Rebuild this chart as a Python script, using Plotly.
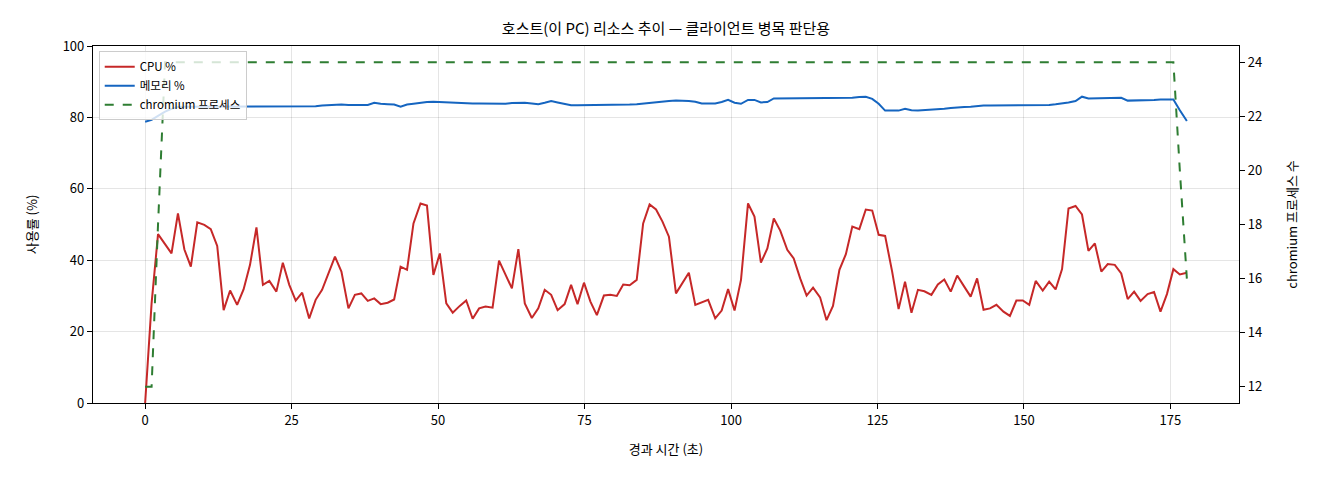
import plotly.graph_objects as go

# 경과 시간 (초)
elapsed = [
    0.0, 1.1, 2.2, 3.4, 4.5, 5.6, 6.7, 7.8, 8.9, 10.1,
    11.2, 12.3, 13.4, 14.5, 15.7, 16.8, 17.9, 19.0, 20.1, 21.2,
    22.4, 23.5, 24.6, 25.7, 26.8, 28.0, 29.1, 30.2, 31.3, 32.4,
    33.5, 34.7, 35.8, 36.9, 38.0, 39.1, 40.2, 41.4, 42.5, 43.6,
    44.7, 45.8, 47.0, 48.1, 49.2, 50.3, 51.4, 52.5, 53.7, 54.8,
    55.9, 57.0, 58.1, 59.3, 60.4, 61.5, 62.6, 63.7, 64.8, 66.0,
    67.1, 68.2, 69.3, 70.4, 71.6, 72.7, 73.8, 74.9, 76.0, 77.1,
    78.3, 79.4, 80.5, 81.6, 82.7, 83.9, 85.0, 86.1, 87.2, 88.3,
    89.4, 90.6, 91.7, 92.8, 93.9, 95.0, 96.1, 97.3, 98.4, 99.5,
    100.6, 101.7, 102.9, 104.0, 105.1, 106.2, 107.3, 108.4, 109.6, 110.7,
    111.8, 112.9, 114.0, 115.2, 116.3, 117.4, 118.5, 119.6, 120.7, 121.9,
    123.0, 124.1, 125.2, 126.3, 127.5, 128.6, 129.7, 130.8, 131.9, 133.0,
    134.2, 135.3, 136.4, 137.5, 138.6, 139.8, 140.9, 142.0, 143.1, 144.2,
    145.3, 146.5, 147.6, 148.7, 149.8, 150.9, 152.0, 153.2, 154.3, 155.4,
    156.5, 157.6, 158.8, 159.9, 161.0, 162.1, 163.2, 164.3, 165.5, 166.6,
    167.7, 168.8, 169.9, 171.1, 172.2, 173.3, 174.4, 175.5, 176.6, 177.8,
]

cpu = [
    0.0, 27.9, 47.3, 44.5, 41.9, 53.1, 43.0, 38.2, 50.6, 49.9,
    48.7, 44.0, 26.0, 31.5, 27.5, 31.8, 38.7, 49.2, 33.1, 34.2,
    31.2, 39.3, 33.1, 28.7, 30.9, 23.7, 28.9, 31.7, 36.3, 41.0,
    36.8, 26.5, 30.3, 30.7, 28.6, 29.3, 27.7, 28.1, 29.0, 38.2,
    37.3, 50.3, 55.9, 55.3, 35.9, 41.9, 27.9, 25.3, 27.2, 28.7,
    23.6, 26.5, 27.0, 26.7, 39.9, 35.9, 32.1, 43.1, 27.9, 23.8,
    26.5, 31.7, 30.3, 26.0, 27.7, 33.1, 27.7, 33.7, 28.4, 24.6,
    30.1, 30.3, 30.0, 33.2, 33.0, 34.5, 50.3, 55.6, 54.2, 50.8,
    46.6, 30.7, 33.5, 36.5, 27.5, 28.2, 28.9, 23.7, 25.9, 31.9,
    25.9, 34.5, 55.9, 52.2, 39.3, 43.3, 51.7, 48.3, 42.9, 40.5,
    34.9, 30.1, 32.3, 29.6, 23.2, 27.2, 37.3, 41.7, 49.4, 48.7,
    54.2, 53.9, 47.1, 46.8, 36.8, 26.3, 34.0, 25.3, 31.7, 31.3,
    30.3, 33.2, 34.6, 31.2, 35.7, 32.6, 29.8, 34.9, 26.1, 26.5,
    27.5, 25.6, 24.4, 28.7, 28.7, 27.5, 34.2, 31.5, 34.0, 31.8,
    37.5, 54.5, 55.2, 52.8, 42.6, 44.7, 36.8, 38.9, 38.7, 36.3,
    29.1, 31.2, 28.6, 30.5, 31.1, 25.6, 30.5, 37.5, 36.0, 36.5,
]

memory = [
    78.8, 79.3, 80.4, 81.6, 82.4, 82.9, 83.0, 83.0, 83.1, 83.1,
    83.1, 83.0, 83.0, 83.0, 83.0, 83.0, 83.0, 83.0, 83.0, 83.0,
    83.0, 83.0, 83.0, 83.0, 83.0, 83.0, 83.1, 83.3, 83.4, 83.5,
    83.6, 83.5, 83.5, 83.5, 83.5, 84.1, 83.8, 83.7, 83.6, 83.0,
    83.6, 83.8, 84.1, 84.3, 84.4, 84.3, 84.3, 84.2, 84.1, 84.0,
    83.9, 83.9, 83.9, 83.8, 83.7, 83.8, 84.0, 84.1, 84.1, 83.9,
    83.7, 84.1, 84.6, 84.2, 83.8, 83.4, 83.4, 83.4, 83.4, 83.5,
    83.5, 83.5, 83.5, 83.6, 83.6, 83.7, 83.9, 84.0, 84.2, 84.5,
    84.6, 84.7, 84.7, 84.6, 84.4, 83.9, 83.9, 83.9, 84.3, 84.9,
    84.1, 83.8, 84.9, 84.9, 84.2, 84.3, 85.3, 85.3, 85.3, 85.3,
    85.3, 85.4, 85.4, 85.3, 85.3, 85.3, 85.3, 85.4, 85.5, 85.7,
    85.8, 85.2, 83.8, 81.9, 81.9, 81.9, 82.4, 82.0, 81.9, 82.0,
    82.0, 82.2, 82.4, 82.6, 82.8, 82.9, 83.0, 83.2, 83.3, 83.3,
    83.3, 83.4, 83.4, 83.4, 83.4, 83.3, 83.4, 83.5, 83.5, 83.7,
    83.9, 84.2, 84.6, 85.8, 85.3, 85.3, 85.3, 85.3, 85.4, 85.5,
    84.7, 84.7, 84.7, 84.8, 84.9, 85.0, 85.1, 85.0, 82.0, 79.0,
]

chromium = [
    12, 12, 18, 24, 24, 24, 24, 24, 24, 24, 24, 24, 24, 24, 24, 24, 24, 24, 24, 24,
    24, 24, 24, 24, 24, 24, 24, 24, 24, 24, 24, 24, 24, 24, 24, 24, 24, 24, 24, 24,
    24, 24, 24, 24, 24, 24, 24, 24, 24, 24, 24, 24, 24, 24, 24, 24, 24, 24, 24, 24,
    24, 24, 24, 24, 24, 24, 24, 24, 24, 24, 24, 24, 24, 24, 24, 24, 24, 24, 24, 24,
    24, 24, 24, 24, 24, 24, 24, 24, 24, 24, 24, 24, 24, 24, 24, 24, 24, 24, 24, 24,
    24, 24, 24, 24, 24, 24, 24, 24, 24, 24, 24, 24, 24, 24, 24, 24, 24, 24, 24, 24,
    24, 24, 24, 24, 24, 24, 24, 24, 24, 24, 24, 24, 24, 24, 24, 24, 24, 24, 24, 24,
    24, 24, 24, 24, 24, 24, 24, 24, 24, 24, 24, 24, 24, 24, 24, 24, 24, 24, 20, 16,
]

x_ticks = [0, 25, 50, 75, 100, 125, 150, 175]
left_ticks = [0, 20, 40, 60, 80, 100]
right_ticks = [12, 14, 16, 18, 20, 22, 24]

font_family = "Noto Sans CJK KR, Noto Sans, DejaVu Sans"
grid_color = "rgba(0,0,0,0.1)"

fig = go.Figure()
fig.add_trace(go.Scatter(x=elapsed, y=cpu, mode="lines", name="CPU %",
                         line=dict(color="#c62828", width=2)))
fig.add_trace(go.Scatter(x=elapsed, y=memory, mode="lines", name="메모리 %",
                         line=dict(color="#1565c0", width=2)))
fig.add_trace(go.Scatter(x=elapsed, y=chromium, mode="lines", name="chromium 프로세스",
                         yaxis="y2", line=dict(color="#2e7d32", width=2, dash="dash")))

# page body has an 8px margin, so the plot box is placed 8px up/left
fig.update_layout(
    width=1320, height=480,
    margin=dict(l=85, r=89, t=38, b=85),
    paper_bgcolor="white", plot_bgcolor="white",
    font=dict(family=font_family, size=13, color="black"),
    title=dict(text="호스트(이 PC) 리소스 추이 — 클라이언트 병목 판단용",
               x=0.5, xanchor="center", y=1 - 21 / 480, yanchor="middle",
               xref="paper", font=dict(size=15)),
    xaxis=dict(
        title=dict(text="경과 시간 (초)", font=dict(size=13), standoff=17),
        range=[-8.9, 186.7], tickvals=x_ticks,
        showgrid=True, gridcolor=grid_color, zeroline=False,
        showline=True, linecolor="black", linewidth=1.2, mirror=True,
        ticks="outside", ticklen=5, tickcolor="black",
    ),
    yaxis=dict(
        title=dict(text="사용률 (%)", font=dict(size=13), standoff=22),
        range=[0, 100], tickvals=left_ticks,
        showgrid=True, gridcolor=grid_color, zeroline=False,
        showline=True, linecolor="black", linewidth=1.2,
        ticks="outside", ticklen=5, tickcolor="black",
    ),
    yaxis2=dict(
        title=dict(text="chromium 프로세스 수", font=dict(size=13), standoff=26),
        overlaying="y", side="right",
        range=[11.4, 24.6], tickvals=right_ticks,
        showgrid=False, zeroline=False,
        showline=True, linecolor="black", linewidth=1.2,
        ticks="outside", ticklen=5, tickcolor="black",
    ),
    legend=dict(
        x=0.005, y=0.985, xanchor="left", yanchor="top",
        bgcolor="rgba(255,255,255,0.8)", bordercolor="#cccccc", borderwidth=1,
        font=dict(size=11.5),
    ),
    showlegend=True,
)

fig.write_html("out.html")
